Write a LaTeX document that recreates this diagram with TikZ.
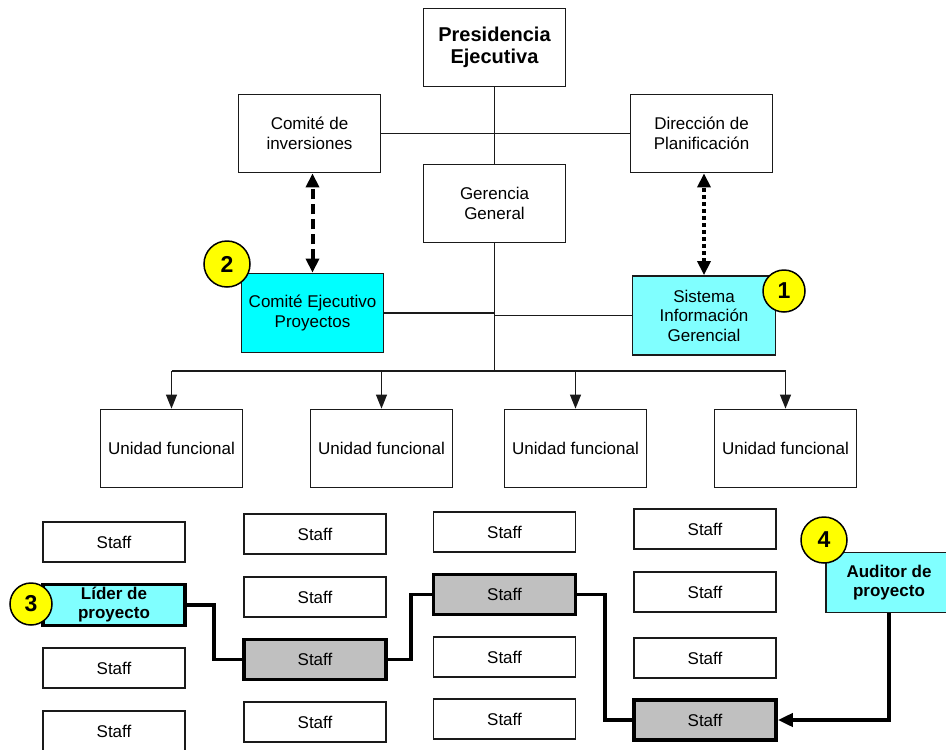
\documentclass[tikz,border=0pt]{standalone}
\usepackage{fontspec}
\setmainfont{Liberation Sans}
\usetikzlibrary{arrows.meta}

\definecolor{cyanfull}{HTML}{00FFFF}
\definecolor{cyanlight}{HTML}{80FFFF}
\definecolor{staffgray}{HTML}{C0C0C0}
\definecolor{markyellow}{HTML}{FFFF00}
\definecolor{edge}{HTML}{1A1A1A}

\tikzset{
  orgbox/.style={draw=edge, line width=1.8pt, fill=white, minimum width=142pt,
    minimum height=78pt, inner sep=0pt, align=center,
    font=\fontsize{17}{19.5}\selectfont},
  staffbox/.style={draw=edge, line width=1.8pt, fill=white, minimum width=142pt,
    minimum height=40pt, inner sep=0pt, align=center,
    font=\fontsize{17}{19}\selectfont},
  pathbox/.style={staffbox, line width=3.6pt, draw=black, fill=staffgray},
  rolebox/.style={staffbox, fill=cyanlight, font=\bfseries\fontsize{17}{19}\selectfont},
  marker/.style={circle, draw=black, line width=1.5pt, fill=markyellow,
    minimum size=44pt, inner sep=0pt, font=\bfseries\fontsize{23}{23}\selectfont},
  orgline/.style={draw=edge, line width=1.2pt},
  downarrow/.style={orgline, -{Triangle[length=14pt,width=11pt]}},
  pathline/.style={draw=black, line width=3.8pt},
  linkarrow/.style={line width=4pt, {Triangle[length=14pt,width=13pt]}-{Triangle[length=14pt,width=13pt]}},
}

\begin{document}
\begin{tikzpicture}[x=1pt, y=-1pt]
  \useasboundingbox (0,0) rectangle (946,750);
  \clip (0,0) rectangle (946,750);

  % upper management
  \node[orgbox, font=\bfseries\fontsize{20}{22}\selectfont] (pres) at (494.5,47.5) {Presidencia\\Ejecutiva};
  \node[orgbox] (cinv) at (309.5,133.5) {Comité de\\inversiones};
  \node[orgbox] (dplan) at (701.5,133.5) {Dirección de\\Planificación};
  \node[orgbox] (ger) at (494.5,203.5) {Gerencia\\General};
  \node[orgbox, fill=cyanfull, minimum height=79pt] (cep) at (312.5,313) {Comité Ejecutivo\\Proyectos};
  \node[orgbox, fill=cyanlight, minimum width=143pt, minimum height=79pt] (sig) at (704,315.5) {Sistema\\Información\\Gerencial};

  % functional units
  \node[orgbox] (u1) at (171.5,448.5) {Unidad funcional};
  \node[orgbox] (u2) at (381.5,448.5) {Unidad funcional};
  \node[orgbox] (u3) at (575.5,448.5) {Unidad funcional};
  \node[orgbox] (u4) at (785.5,448.5) {Unidad funcional};

  % staff columns
  \node[staffbox] (s11) at (114,542) {Staff};
  \node[rolebox, line width=3.6pt, draw=black, minimum height=41pt] (lid) at (114,605) {Líder de\\proyecto};
  \node[staffbox] (s13) at (114,668) {Staff};
  \node[staffbox] (s14) at (114,731) {Staff};

  \node[staffbox] (s21) at (315,534) {Staff};
  \node[staffbox] (s22) at (315,597) {Staff};
  \node[pathbox] (g2) at (315,659.5) {Staff};
  \node[staffbox] (s24) at (315,722) {Staff};

  \node[staffbox] (s31) at (504.5,532) {Staff};
  \node[pathbox] (g3) at (504.5,594.5) {Staff};
  \node[staffbox] (s33) at (504.5,657) {Staff};
  \node[staffbox] (s34) at (504.5,719) {Staff};

  \node[staffbox] (s41) at (705,529) {Staff};
  \node[staffbox] (s42) at (705,592) {Staff};
  \node[staffbox] (s43) at (705,658) {Staff};
  \node[pathbox] (g4) at (705,720) {Staff};

  \node[rolebox, minimum width=126pt, minimum height=60pt] (aud) at (889,582.5) {Auditor de\\proyecto};

  % hierarchy lines
  \coordinate (bus) at (494.5,371);
  \draw[orgline] (cinv.east) -- (dplan.west);
  \draw[orgline] (pres.south) -- (ger.north);
  \draw[orgline] (ger.south) -- (bus);
  \draw[orgline] (cep.east) -- (cep.east -| bus);
  \draw[orgline] (sig.west) -- (sig.west -| bus);
  \draw[orgline] (u1.north |- bus) -- (u4.north |- bus);
  \foreach \u in {u1,u2,u3,u4}
    \draw[downarrow] (\u.north |- bus) -- (\u.north);

  % information links
  \draw[linkarrow, dash pattern=on 10pt off 5pt] (cep.north) -- (cep.north |- cinv.south);
  \draw[linkarrow, dash pattern=on 4pt off 3pt] (sig.north) -- (sig.north |- dplan.south);

  % project path through the staff
  \draw[pathline] (lid.east) -- ++(27,0) |- (g2.west);
  \draw[pathline] (g2.east) -- ++(23,0) |- (g3.west);
  \draw[pathline] (g3.east) -- ++(28,0) |- (g4.west);
  \draw[pathline, -{Triangle[length=15pt,width=13pt]}] (aud.south) |- (g4.east);

  % numbered markers
  \node[marker, minimum size=42pt] (m1) at (784,291) {1};
  \node[marker, minimum size=46pt] (m2) at (227,264) {2};
  \node[marker, minimum size=42pt] (m3) at (31,604) {3};
  \node[marker, minimum size=46pt] (m4) at (824,540) {4};
\end{tikzpicture}
\end{document}
